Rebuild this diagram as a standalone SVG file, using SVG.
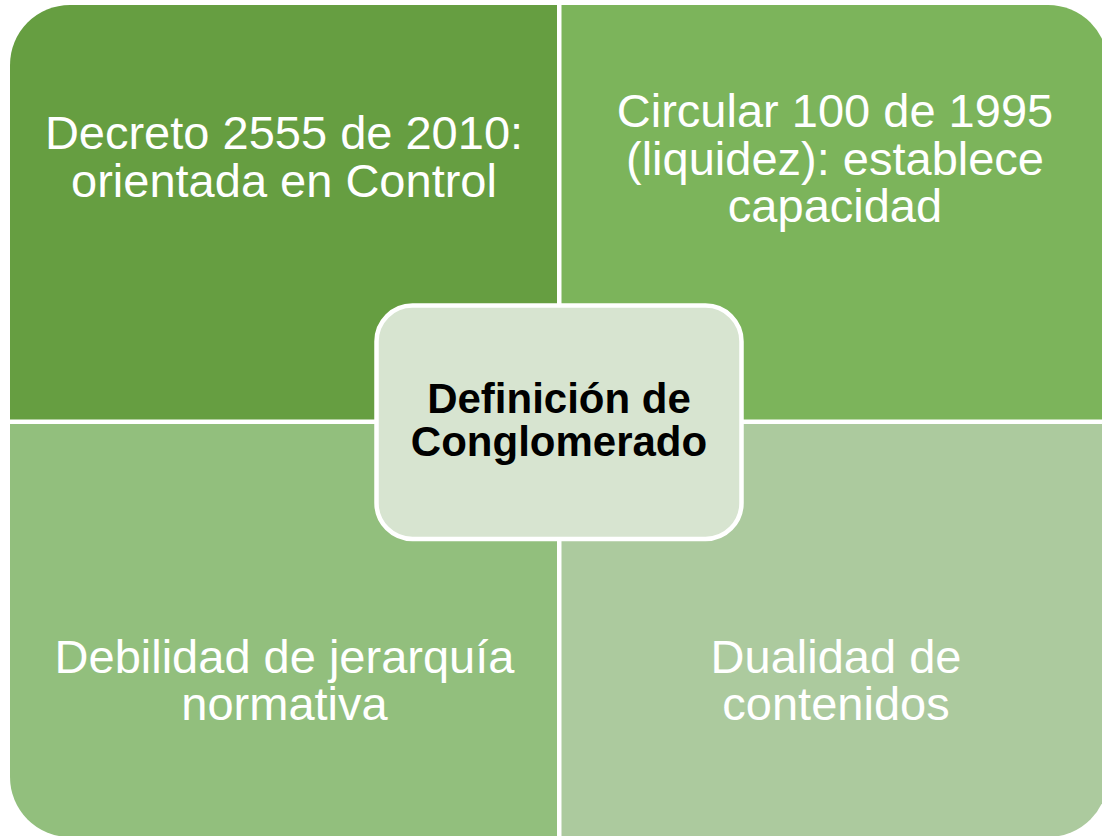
<svg xmlns="http://www.w3.org/2000/svg" width="1102" height="836" viewBox="0 0 1102 836">
<style>
.q{stroke:none}
.t{font-family:"Liberation Sans",Arial,sans-serif;font-size:47px;fill:#ffffff;text-anchor:middle}
.c{font-family:"Liberation Sans",Arial,sans-serif;font-size:42px;font-weight:bold;fill:#000000;text-anchor:middle}
</style>
<rect width="1102" height="836" fill="#ffffff"/>
<g id="node-tl">
<path class="q" d="M10,65 A60,60 0 0 1 70,5 H557 V419.5 H10 Z" fill="#669e41"/>
<text class="t" x="284" y="149">Decreto 2555 de 2010:</text>
<text class="t" x="284" y="196.5">orientada en Control</text>
</g>
<g id="node-tr">
<path class="q" d="M561.5,5 H1048 A60,60 0 0 1 1108,65 V419.5 H561.5 Z" fill="#7cb45b"/>
<text class="t" x="835" y="127">Circular 100 de 1995</text>
<text class="t" x="835" y="174.5">(liquidez): establece</text>
<text class="t" x="835" y="222">capacidad</text>
</g>
<g id="node-bl">
<path class="q" d="M10,424 H557 V837 H70 A60,60 0 0 1 10,777 Z" fill="#92bf7d"/>
<text class="t" x="284.5" y="673">Debilidad de jerarquía</text>
<text class="t" x="284.5" y="720">normativa</text>
</g>
<g id="node-br">
<path class="q" d="M561.5,424 H1108 V777 A60,60 0 0 1 1048,837 H561.5 Z" fill="#acca9e"/>
<text class="t" x="836" y="673">Dualidad de</text>
<text class="t" x="836" y="720">contenidos</text>
</g>
<g id="connectors"></g>
<g id="node-center">
<rect x="376.5" y="305.5" width="365" height="233.5" rx="36" ry="36" fill="#d7e4d0" stroke="#ffffff" stroke-width="4.5"/>
<text class="c" x="559" y="413">Definición de</text>
<text class="c" x="559" y="456">Conglomerado</text>
</g>
</svg>
